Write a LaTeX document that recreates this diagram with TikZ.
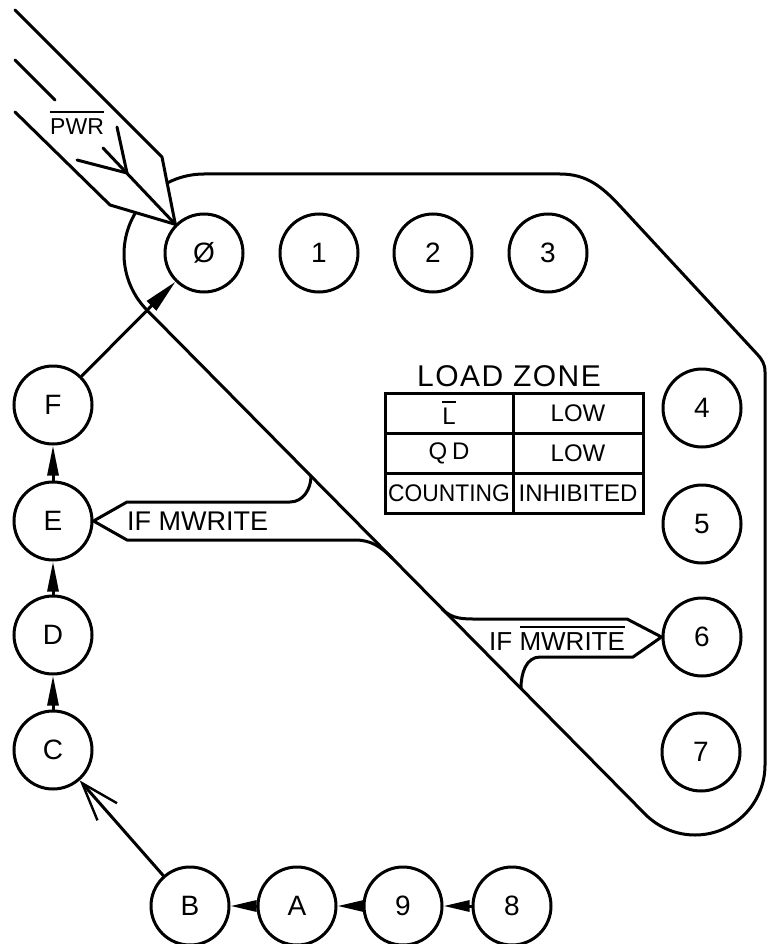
\documentclass[tikz,border=0pt]{standalone}
\usepackage{fontspec}
\usepackage{graphicx}
\setmainfont{Liberation Sans}
\usetikzlibrary{arrows.meta,calc}
\newcommand\ovl[2][3pt]{\vbox{\hrule height 2.4pt\kern#1\hbox{#2}}}
\begin{document}
\begin{tikzpicture}[x=1pt,y=1pt,
  ln/.style={line width=3pt,line join=round,line cap=round},
  st/.style={circle,draw,line width=3pt,minimum size=78pt,inner sep=0pt,
    font=\fontsize{28}{30}\selectfont},
  cell/.style={draw,line width=3pt,minimum height=40pt,inner sep=0pt,
    font=\fontsize{24}{26}\selectfont},
  lbl/.style={inner sep=0pt,font=\fontsize{27}{30}\selectfont},
  fa/.style={-{Triangle[length=#1,width=11pt]}},
]
\useasboundingbox (0,0) rectangle (768,-944);
% states
\node[st] (n0) at (204,-253) {Ø};
\node[st] (n1) at (319,-253) {1};
\node[st] (n2) at (433,-253) {2};
\node[st] (n3) at (548,-253) {3};
\node[st] (n4) at (702,-408) {4};
\node[st] (n5) at (702,-524) {5};
\node[st] (n6) at (702,-637) {6};
\node[st] (n7) at (701,-752) {7};
\node[st] (nF) at (53,-405) {F};
\node[st] (nE) at (53,-521) {E};
\node[st] (nD) at (53,-635) {D};
\node[st] (nC) at (53,-750) {C};
\node[st] (nB) at (190,-906) {B};
\node[st] (nA) at (297,-906) {A};
\node[st] (n9) at (403,-906) {9};
\node[st] (n8) at (512,-906) {8};
% load zone boundary
\draw[ln] ($(204,-254)+(117.5:80)$) arc[start angle=117.5,end angle=90,radius=80]
  -- (560,-174) to[out=0,in=133] (620,-206) -- (757,-354)
  to[out=-47,in=90] (765,-372) -- (765,-765)
  arc[start angle=0,end angle=-135,radius=70]
  -- ($(204,-254)+(225:80)$) arc[start angle=225,end angle=149,radius=80];
% PWR input
\draw[ln] (15,-10) -- (162,-157) -- (n0.135) -- (110,-205) -- (15,-112);
\draw[ln] (15,-60) -- (55,-100);
\draw[ln] (103,-148) -- (n0.135);
\draw[ln] (117,-127) -- (127,-173) -- (77,-160);
\node[anchor=base west,inner sep=0pt,font=\fontsize{23}{26}\selectfont] (pwr) at (50,-135) {\ovl[6pt]{PWR}};
% load zone table
\node[font=\fontsize{30}{32}\selectfont\addfontfeatures{LetterSpace=5}] (lz) at (509,-376) {LOAD ZONE};
\node[cell,minimum width=128pt] (c11) at (449,-413) {\ovl[5pt]{L}};
\node[cell,minimum width=130pt] (c12) at (578,-413) {LOW};
\node[cell,minimum width=128pt] (c21) at (449,-453) {\addfontfeatures{LetterSpace=20}QD};
\node[cell,minimum width=130pt] (c22) at (578,-453) {LOW};
\node[cell,minimum width=128pt] (c31) at (449,-493) {\scalebox{0.95}[1]{COUNTING}};
\node[cell,minimum width=130pt] (c32) at (578,-493) {INHIBITED};
% counting sequence
\draw[ln,fa=30pt] (nC) -- (nD);
\draw[ln,fa=30pt] (nD) -- (nE);
\draw[ln,fa=30pt] (nE) -- (nF);
\draw[ln,-{Triangle[length=34pt,width=13pt]}] (nF) -- (n0);
\draw[ln,fa=26pt] (n8) -- (n9);
\draw[ln,fa=26pt] (n9) -- (nA);
\draw[ln,fa=26pt] (nA) -- (nB);
\draw[ln,-{Straight Barb[length=38pt,width=26pt,line width=2.4pt]}] (nB) -- (nC);
% IF MWRITE branch to E
\draw[ln] (311,-476) to[out=-90,in=0] (290,-502) -- (127,-502) -- (nE.east)
  -- (127,-540) -- (355,-540) to[out=0,in=135] (392,-558);
\node[lbl,anchor=west] (tE) at (127,-521) {IF MWRITE};
% IF not MWRITE branch to 6
\draw[ln] (442,-609) to[out=-45,in=180] (478,-619) -- (627,-619) -- (n6.west)
  -- (633,-657) -- (540,-657) to[out=180,in=90] (521,-688);
\node[lbl,anchor=base west,font=\fontsize{26}{28}\selectfont] (t6) at (489,-650) {IF \ovl[4pt]{MWRITE}};
\end{tikzpicture}
\end{document}
